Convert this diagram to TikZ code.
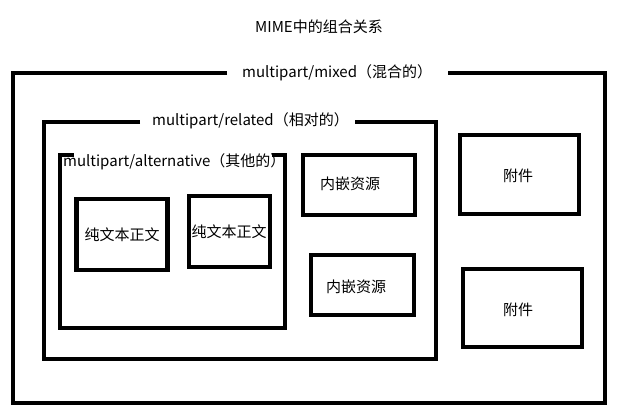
\documentclass[tikz,border=0pt]{standalone}
\usepackage{fontspec}
\setmainfont{Noto Sans CJK SC}
\begin{document}
\begin{tikzpicture}[x=1pt,y=-1pt,
  frame/.style={line width=4.5pt, line join=miter},
  box/.style={draw, line width=4.5pt, inner sep=0pt},
  lbl/.style={font=\fontsize{15}{17}\selectfont, inner sep=0pt}]
\useasboundingbox (0,0) rectangle (626,419);
% title
\node[lbl] (title) at (319,27) {MIME中的组合关系};
% outer: multipart/mixed
\node[lbl, anchor=west] (mixed) at (242,73) {multipart/mixed（混合的）};
\draw[frame] (227,73) -- (13,73) -- (13,403) -- (605,403) -- (605,73) -- (448,73);
% related
\node[lbl, anchor=west] (related) at (152,121) {multipart/related（相对的）};
\draw[frame] (140,122) -- (44,122) -- (44,359) -- (436,359) -- (436,122) -- (355,122);
% alternative
\node[lbl, anchor=west] (alt) at (63,162) {multipart/alternative（其他的）};
\draw[frame] (74,155) -- (60,155) -- (60,328) -- (285,328) -- (285,155) -- (272,155);
% text bodies
\node[box, minimum width=91pt, minimum height=71pt] (t1) at (122,234.5) {};
\node[lbl] at (t1.center) {纯文本正文};
\node[box, minimum width=81pt, minimum height=71pt] (t2) at (229.5,231.5) {};
\node[lbl] at (229,232) {纯文本正文};
% embedded resources
\node[box, minimum width=112pt, minimum height=60pt] (e1) at (359,185) {};
\node[lbl] at (350,184) {内嵌资源};
\node[box, minimum width=103pt, minimum height=60pt] (e2) at (362.5,285) {};
\node[lbl] at (356,287) {内嵌资源};
% attachments
\node[box, minimum width=119pt, minimum height=79pt] (a1) at (519.5,174.5) {};
\node[lbl] at (518,176) {附件};
\node[box, minimum width=119pt, minimum height=78pt] (a2) at (522.5,308) {};
\node[lbl] at (518,310) {附件};
\end{tikzpicture}
\end{document}
